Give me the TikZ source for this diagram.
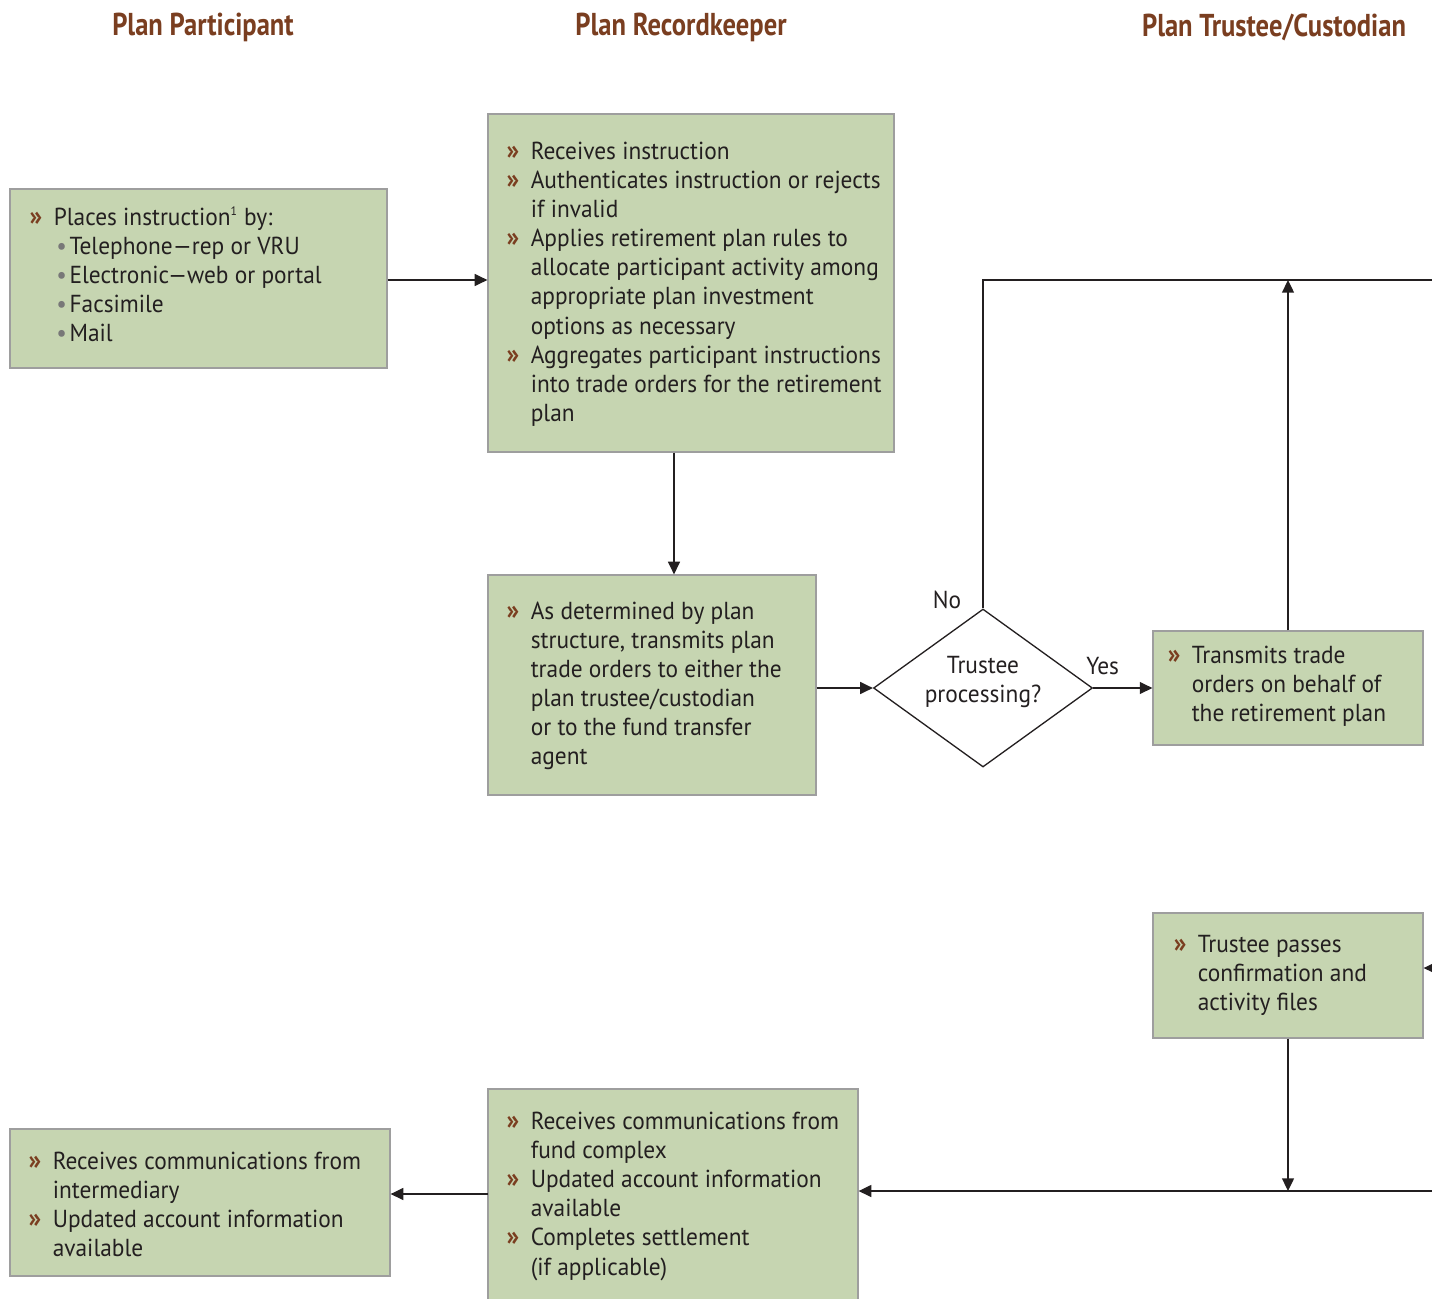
\documentclass[tikz,border=0pt]{standalone}
\usepackage{fontspec}
\setmainfont{PT Sans}[FakeStretch=0.95]
\newfontfamily\headfont{PT Sans}[FakeStretch=0.84]
\usetikzlibrary{arrows.meta,shapes.geometric,fit,positioning}
\definecolor{boxgreen}{RGB}{198,213,177}
\definecolor{boxline}{RGB}{158,158,158}
\definecolor{headbrown}{RGB}{122,62,32}
\definecolor{inkgray}{RGB}{35,31,32}
\definecolor{dotgray}{RGB}{120,120,120}
\newcommand\chev{\textcolor{headbrown}{\bfseries\fontsize{15.5}{16.6}\selectfont »}}
\newcommand\subitm[1]{\makebox[9pt][l]{\hspace{1.5pt}\textcolor{dotgray}{\textbullet}}#1}
\newcommand\itemlist[1]{\begin{tabular}{@{}p{13.7pt}@{}l@{}}#1\end{tabular}}

\begin{document}
\begin{tikzpicture}[x=0.02cm, y=-0.02cm,
    box/.style={draw=boxline, fill=boxgreen, line width=0.7pt, inner sep=0pt},
    txt/.style={anchor=north west, inner sep=0pt, text=inkgray, font=\fontsize{14}{16.6}\selectfont},
    head/.style={text=headbrown, font=\headfont\bfseries\fontsize{18}{20}\selectfont},
    arr/.style={-{Triangle[length=7.2pt,width=6.8pt]}, line width=0.75pt, draw=inkgray},
    wire/.style={line width=0.75pt, draw=inkgray}]
    \useasboundingbox (0,0) rectangle (1432,1298);
    \clip (0,0) rectangle (1432,1298);

    % column heads
    \node[head] (hpart) at (203,27) {Plan Participant};
    \node[head] (hrec) at (681,27) {Plan Recordkeeper};
    \node[head] (htrust) at (1274,27) {Plan Trustee/Custodian};

    % plan participant
    \node[box, fit={(10,189) (387,368)}] (part1) {};
    \node[txt] (part1t) at ([shift={(20,16)}]part1.north west) {\itemlist{
        \chev & Places instruction\textsuperscript{\scriptsize 1} by:\\
        & \subitm{Telephone—rep or VRU}\\
        & \subitm{Electronic—web or portal}\\
        & \subitm{Facsimile}\\
        & \subitm{Mail}}};
    \node[box, fit={(10,1129) (390,1276)}] (part2) {};
    \node[txt] (part2t) at ([shift={(19,20)}]part2.north west) {\itemlist{
        \chev & Receives communications from\\
        & intermediary\\
        \chev & Updated account information\\
        & available}};

    % plan recordkeeper
    \node[box, fit={(488,114) (894,452)}] (rec1) {};
    \node[txt] (rec1t) at ([shift={(19,25)}]rec1.north west) {\itemlist{
        \chev & Receives instruction\\
        \chev & Authenticates instruction or rejects\\
        & if invalid\\
        \chev & Applies retirement plan rules to\\
        & allocate participant activity among\\
        & appropriate plan investment\\
        & options as necessary\\
        \chev & Aggregates participant instructions\\
        & into trade orders for the retirement\\
        & plan}};
    \node[box, fit={(488,575) (816,795)}] (rec2) {};
    \node[txt] (rec2t) at ([shift={(19,24)}]rec2.north west) {\itemlist{
        \chev & As determined by plan\\
        & structure, transmits plan\\
        & trade orders to either the\\
        & plan trustee/custodian\\
        & or to the fund transfer\\
        & agent}};
    \node[box, fit={(488,1089) (858,1340)}] (rec3) {};
    \node[txt] (rec3t) at ([shift={(19,20)}]rec3.north west) {\itemlist{
        \chev & Receives communications from\\
        & fund complex\\
        \chev & Updated account information\\
        & available\\
        \chev & Completes settlement\\
        & (if applicable)}};

    % decision
    \node[diamond, draw=inkgray, line width=0.75pt, aspect=1.39, inner sep=0pt,
          minimum width=4.38cm, minimum height=3.16cm] (dec) at (983,688) {};
    \node[align=center, text=inkgray, font=\fontsize{14}{16.6}\selectfont] (dect) at (983,682) {Trustee\\processing?};

    % plan trustee/custodian
    \node[box, fit={(1153,631) (1423,745)}] (trust1) {};
    \node[txt] (trust1t) at ([shift={(15,12)}]trust1.north west) {\itemlist{
        \chev & Transmits trade\\
        & orders on behalf of\\
        & the retirement plan}};
    \node[box, fit={(1153,913) (1423,1038)}] (trust2) {};
    \node[txt] (trust2t) at ([shift={(21,19)}]trust2.north west) {\itemlist{
        \chev & Trustee passes\\
        & confirmation and\\
        & activity files}};

    % loose ends leaving the frame
    \coordinate (recdrop) at (674,452);
    \coordinate (topout) at (1460,280);
    \coordinate (midout) at (1460,968);
    \coordinate (botout) at (1460,1191);
    \coordinate (retleft) at (488,1194);

    % connectors
    \draw[arr] (part1.east |- 0,280) -- (rec1.west |- 0,280);
    \draw[arr] (rec1.south -| recdrop) -- (rec2.north -| recdrop);
    \draw[arr] (rec2.east |- dec.west) -- (dec.west);
    \draw[arr] (dec.east) -- node[pos=0.16, above=4pt, text=inkgray, font=\fontsize{14}{16.6}\selectfont] (yes) {Yes} (trust1.west |- dec.east);
    \draw[wire] (dec.north) |- (topout);
    \node[text=inkgray, font=\fontsize{14}{16.6}\selectfont] (no) at (947,600) {No};
    \draw[arr] (trust1.north) -- (trust1.north |- topout);
    \draw[arr] (midout) -- (midout -| trust2.east);
    \draw[arr] (trust2.south) -- (trust2.south |- botout);
    \draw[arr] (botout) -- (botout -| rec3.east);
    \draw[arr] (retleft) -- (retleft -| part2.east);
\end{tikzpicture}
\end{document}
